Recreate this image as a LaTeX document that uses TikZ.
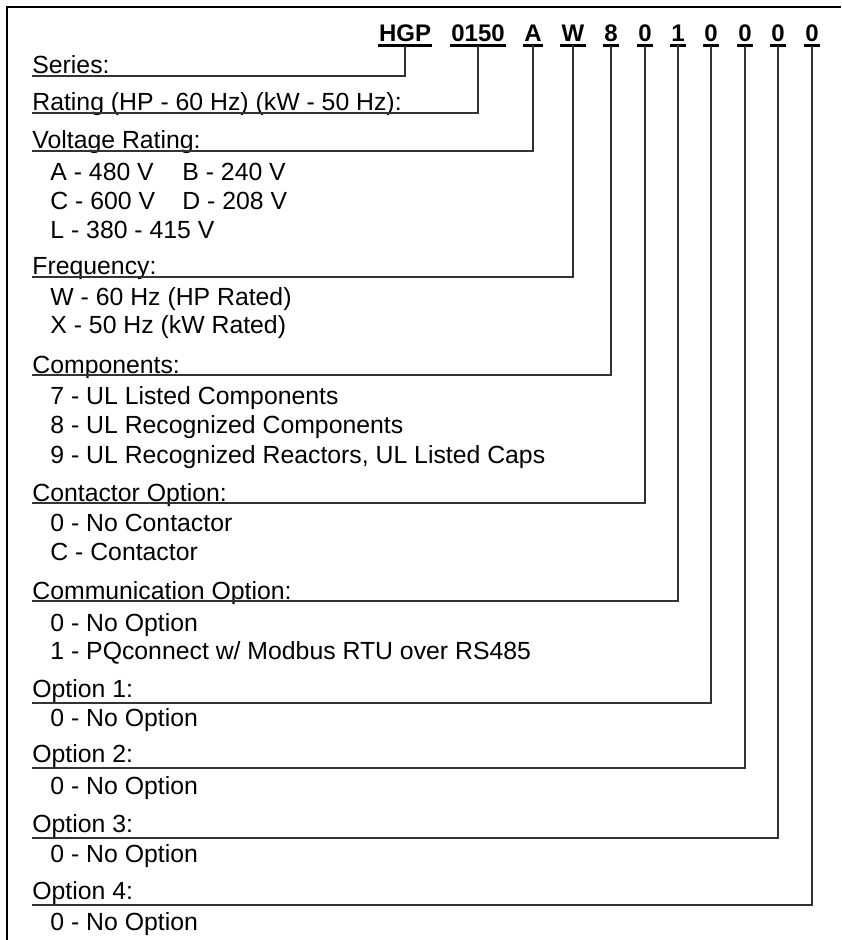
\documentclass[tikz,border=0pt]{standalone}
\usepackage{fontspec}
\setmainfont{Liberation Sans}
\begin{document}
\begin{tikzpicture}[x=0.5pt,y=-0.5pt,
  txt/.style={anchor=base west, inner sep=0pt, font=\fontsize{12.4}{14}\selectfont},
  tok/.style={anchor=base, inner sep=0pt, font=\fontsize{12}{14}\selectfont\bfseries},
  conn/.style={line width=0.85pt, draw=black!80},
  uline/.style={line width=1.3pt, draw=black},
  frameline/.style={line width=1.1pt, draw=black}]
\useasboundingbox (0,0) rectangle (841,940);
\draw[frameline] (841,7) -- (7,7) -- (7,940);

% code tokens
\node[tok] (t1) at (405,42) {HGP};
\node[tok] (t2) at (478,42) {0150};
\node[tok] (t3) at (533,42) {A};
\node[tok] (t4) at (573,42) {W};
\node[tok] (t5) at (611,42) {8};
\node[tok] (t6) at (645,42) {0};
\node[tok] (t7) at (678,42) {1};
\node[tok] (t8) at (711,42) {0};
\node[tok] (t9) at (745,42) {0};
\node[tok] (t10) at (778,42) {0};
\node[tok] (t11) at (812,42) {0};
\foreach \t in {t1,t2,t3,t4,t5,t6,t7,t8,t9,t10,t11}
  \draw[uline] ([xshift=-0.5pt,yshift=-1.5pt]\t.south west) -- ([xshift=0.5pt,yshift=-1.5pt]\t.south east);

% headers (underlined by connector)
\node[txt] (h1) at (32,74) {Series:};
\node[txt] (h2) at (32,111) {Rating (HP - 60 Hz) (kW - 50 Hz):};
\node[txt] (h3) at (32,149) {Voltage Rating:};
\node[txt] (h4) at (32,275) {Frequency:};
\node[txt] (h5) at (32,373) {Components:};
\node[txt] (h6) at (32,501) {Contactor Option:};
\node[txt] (h7) at (32,599) {Communication Option:};
\node[txt] (h8) at (32,697) {Option 1:};
\node[txt] (h9) at (32,762) {Option 2:};
\node[txt] (h10) at (32,832) {Option 3:};
\node[txt] (h11) at (32,899) {Option 4:};

% items
\node[txt] (a1) at (50,180.5) {A - 480 V};
\node[txt] (a2) at (182,180.5) {B - 240 V};
\node[txt] (a3) at (50,209.5) {C - 600 V};
\node[txt] (a4) at (182,209.5) {D - 208 V};
\node[txt] (a5) at (50,239) {L - 380 - 415 V};
\node[txt] (b1) at (50,306) {W - 60 Hz (HP Rated)};
\node[txt] (b2) at (50,334) {X - 50 Hz (kW Rated)};
\node[txt] (c1) at (50,404) {7 - UL Listed Components};
\node[txt] (c2) at (50,433.5) {8 - UL Recognized Components};
\node[txt] (c3) at (50,463) {9 - UL Recognized Reactors, UL Listed Caps};
\node[txt] (d1) at (50,531) {0 - No Contactor};
\node[txt] (d2) at (50,560) {C - Contactor};
\node[txt] (e1) at (50,631) {0 - No Option};
\node[txt] (e2) at (50,659) {1 - PQconnect w/ Modbus RTU over RS485};
\node[txt] (f1) at (50,726) {0 - No Option};
\node[txt] (g1) at (50,794) {0 - No Option};
\node[txt] (k1) at (50,862) {0 - No Option};
\node[txt] (m1) at (50,930) {0 - No Option};

% connectors
\foreach \h/\t in {h1/t1,h2/t2,h3/t3,h4/t4,h5/t5,h6/t6,h7/t7}
  \draw[conn] ([yshift=-1pt]\h.base west) -| ([yshift=-1.5pt]\t.south);
\foreach \h/\t in {h8/t8,h9/t9,h10/t10,h11/t11}
  \draw[conn] ([yshift=-3pt]\h.base west) -| ([yshift=-1.5pt]\t.south);
\end{tikzpicture}
\end{document}
